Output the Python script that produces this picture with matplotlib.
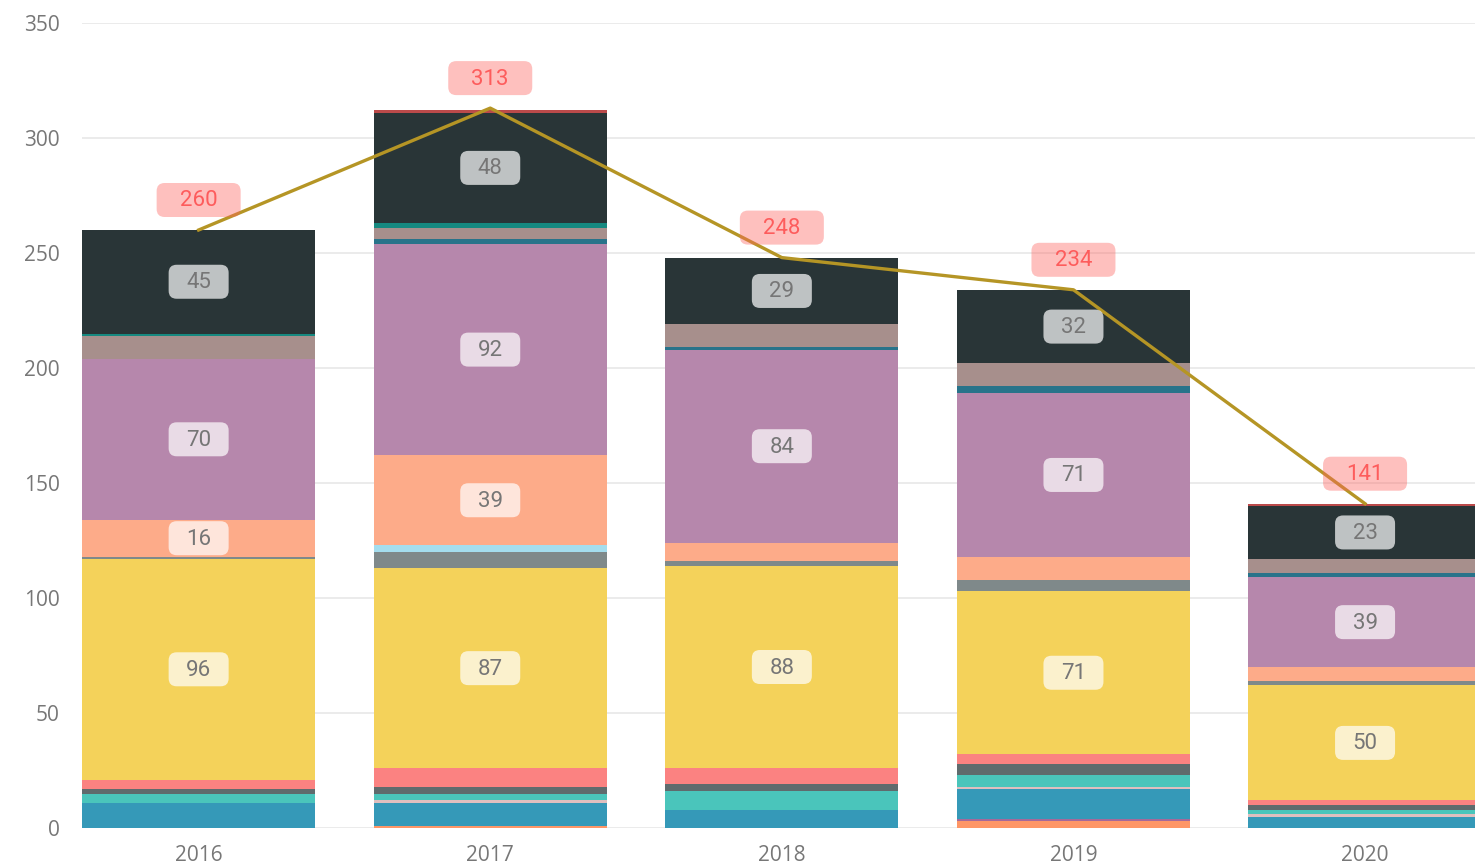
import matplotlib
matplotlib.use("Agg")
import numpy as np
import matplotlib.pyplot as plt
from matplotlib.patches import FancyBboxPatch
from matplotlib.transforms import ScaledTranslation

# data (stacked from the bottom up)
years = ["2016", "2017", "2018", "2019", "2020"]
totals = [260, 313, 248, 234, 141]

orange = [0, 1, 0, 3, 0]
purple = [0, 0, 0, 1, 0]
blue = [11, 10, 8, 13, 5]
pink = [0, 1, 0, 1, 1]
turquoise = [4, 3, 8, 5, 2]
dark_grey = [2, 3, 3, 5, 2]
salmon = [4, 8, 7, 4, 2]
yellow = [96, 87, 88, 71, 50]
grey = [1, 7, 2, 5, 2]
light_blue = [0, 3, 0, 0, 0]
peach = [16, 39, 8, 10, 6]
mauve = [70, 92, 84, 71, 39]
dark_teal = [0, 2, 1, 3, 2]
taupe = [10, 5, 10, 10, 6]
teal_green = [1, 2, 0, 0, 0]
charcoal = [45, 48, 29, 32, 23]
red = [0, 1, 0, 0, 1]

series = [
    (orange, "#FE9666"), (purple, "#A66999"), (blue, "#3599B8"),
    (pink, "#DFBFBF"), (turquoise, "#4AC5BB"), (dark_grey, "#5F6B6D"),
    (salmon, "#FB8281"), (yellow, "#F4D25A"), (grey, "#7F898A"),
    (light_blue, "#A4DDEE"), (peach, "#FDAB89"), (mauve, "#B687AC"),
    (dark_teal, "#28738A"), (taupe, "#A78F8C"), (teal_green, "#168980"),
    (charcoal, "#293537"), (red, "#BB4A4A"),
]

plt.rcParams["font.family"] = ["Open Sans", "DejaVu Sans"]

fig = plt.figure(figsize=(14.75, 8.65), dpi=100)
ax = fig.add_axes([82 / 1475, 37 / 865, 1 - 82 / 1475, 805 / 865])


def tag(xd, yd, text, face, alpha, tcolor, dy=0.0):
    # fixed-size rounded label box, sized in inches around a data point
    w = (12 + 24 * len(text)) / 100
    h = 0.34
    tr = fig.dpi_scale_trans + ScaledTranslation(xd, yd, ax.transData)
    box = FancyBboxPatch((-w / 2, dy - h / 2), w, h,
                         boxstyle="round,pad=0,rounding_size=0.08",
                         transform=tr, facecolor=face, alpha=alpha,
                         edgecolor="none", zorder=5)
    ax.add_patch(box)
    ax.text(0, dy - 0.01, text, transform=tr, ha="center", va="center",
            fontsize=16, color=tcolor, family=["Roboto", "DejaVu Sans"],
            zorder=6)


x = np.arange(len(years))
bottom = np.zeros(len(years))
for vals, col in series:
    vals = np.array(vals, dtype=float)
    ax.bar(x, vals, 0.8, bottom=bottom, color=col, linewidth=0, zorder=2)
    for xi, v, b in zip(x, vals, bottom):
        if v >= 15:
            tag(xi, b + v / 2, str(int(v)), "white", 0.7, "#767676")
    bottom += vals

ax.plot(x, totals, color="#B59525", lw=2.4, zorder=4)
for xi, t in zip(x, totals):
    tag(xi, t, str(t), "#FD625E", 0.4, "#FD5C5C", dy=0.30)

ax.set_xlim(-0.4, 4.377)
ax.set_ylim(0, 350)
ax.set_yticks(range(0, 351, 50))
ax.set_xticks(x)
ax.set_xticklabels(years)
ax.yaxis.grid(True, color="#E9E9E9", lw=1.3)
ax.set_axisbelow(True)
for s in ax.spines.values():
    s.set_visible(False)
ax.tick_params(axis="both", length=0, labelsize=15, labelcolor="#777777")
ax.tick_params(axis="y", pad=16)
ax.tick_params(axis="x", pad=12)

fig.savefig("out.png", dpi=100)
